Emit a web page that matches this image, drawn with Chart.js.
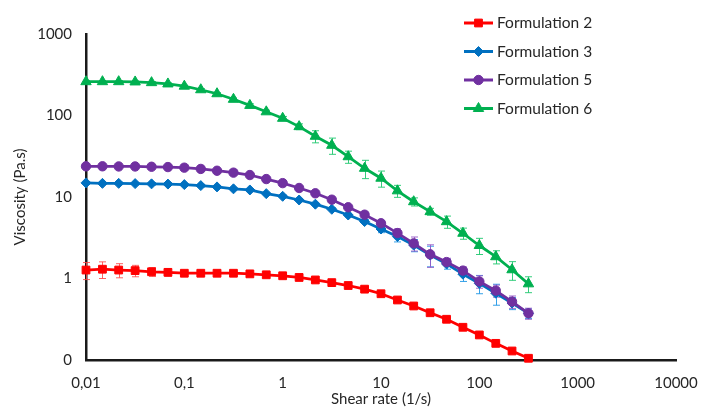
<!DOCTYPE html>
<html>
<head>
<meta charset="utf-8">
<script src="https://cdn.jsdelivr.net/npm/chart.js@4.4.0/dist/chart.umd.min.js"></script>
<style>
  html, body { margin: 0; background: #fff; }
  #wrap { width: 702px; height: 408px; position: relative; }
</style>
</head>
<body>
<div id="wrap"><canvas id="chart"></canvas></div>
<script>
// shear rate (1/s), 6 points per decade
const shearRate = [0.01, 0.0147, 0.0215, 0.0316, 0.0464, 0.0681, 0.1, 0.147, 0.215, 0.316, 0.464, 0.681,
  1, 1.47, 2.15, 3.16, 4.64, 6.81, 10, 14.7, 21.5, 31.6, 46.4, 68.1, 100, 147, 215, 316];

// viscosity (Pa.s)
const form2 = [1.27, 1.30, 1.27, 1.25, 1.21, 1.19, 1.16, 1.16, 1.16, 1.16, 1.14, 1.11, 1.08, 1.03,
  0.96, 0.89, 0.82, 0.74, 0.65, 0.545, 0.46, 0.38, 0.316, 0.252, 0.203, 0.160, 0.129, 0.105];
const form3 = [14.9, 14.7, 14.7, 14.6, 14.5, 14.4, 14.2, 13.8, 13.3, 12.6, 12.2, 11.0, 10.2, 9.19,
  8.16, 7.07, 6.01, 5.00, 4.05, 3.27, 2.57, 1.94, 1.51, 1.13, 0.87, 0.66, 0.50, 0.374];
const form5 = [23.8, 23.8, 23.7, 23.7, 23.5, 23.3, 22.9, 22.1, 21.0, 19.9, 18.6, 16.6, 14.8, 12.9,
  11.1, 9.27, 7.48, 6.07, 4.76, 3.61, 2.70, 1.98, 1.59, 1.25, 0.92, 0.71, 0.52, 0.374];
const form6 = [260, 260, 260, 258, 253, 244, 229, 207, 185, 158, 133, 111, 92.4, 73.0,
  55.6, 43.1, 31.2, 22.5, 17.0, 11.9, 8.75, 6.61, 4.98, 3.59, 2.54, 1.85, 1.28, 0.86];

// standard deviations
const err2 = [0.3, 0.3, 0.25, 0.2, 0.15, 0.12, 0.08, 0.06, 0.05, 0.05, 0.05, 0.04, 0.04, 0.04,
  0.04, 0.035, 0.03, 0.03, 0.025, 0.02, 0.02, 0.015, 0.012, 0.01, 0.008, 0.006, 0.005, 0.004];
const err3 = [0.5, 0.5, 0.5, 0.5, 0.5, 0.5, 0.5, 0.5, 0.45, 0.45, 0.4, 0.4, 0.35, 0.3,
  0.3, 0.3, 0.3, 0.3, 0.4, 0.46, 0.44, 0.55, 0.21, 0.21, 0.22, 0.19, 0.085, 0.05];
const err5 = [0.8, 0.8, 0.8, 0.8, 0.8, 0.8, 0.8, 0.7, 0.7, 0.6, 0.6, 0.5, 0.5, 0.5,
  0.45, 0.4, 0.35, 0.3, 0.4, 0.46, 0.53, 0.61, 0.18, 0.14, 0.16, 0.12, 0.09, 0.058];
const err6 = [8, 8, 8, 8, 8, 8, 7, 7, 6, 6, 6, 5, 5, 6,
  9.4, 9.7, 5.3, 5.7, 3.8, 2.0, 1.0, 0.65, 0.85, 0.56, 0.57, 0.34, 0.33, 0.19];

const seriesNames = ['Formulation 2', 'Formulation 3', 'Formulation 5', 'Formulation 6'];

const xTicks = [0.01, 0.1, 1, 10, 100, 1000, 10000];
const xTickLabels = ['0,01', '0,1', '1', '10', '100', '1000', '10000'];
const yTicks = [0.1, 1, 10, 100, 1000];
const yTickLabels = ['0', '1', '10', '100', '1000'];

const FONT = 'Lato';
const TEXT = '#262626';

function pts(vals) {
  return vals.map((v, i) => ({ x: shearRate[i], y: v }));
}

function series(i, vals, errs, color, errColor, style, radius, order) {
  return {
    label: seriesNames[i],
    data: pts(vals),
    errors: errs,
    errorColor: errColor,
    borderColor: color,
    backgroundColor: color,
    pointBackgroundColor: color,
    pointBorderColor: color,
    pointStyle: style,
    pointRadius: radius,
    pointBorderWidth: 1,
    borderWidth: 2.75,
    tension: 0,
    clip: false,
    order: order
  };
}

// error bars, drawn under the markers
const errorBars = {
  id: 'errorBars',
  beforeDatasetsDraw(chart) {
    const ctx = chart.ctx, xs = chart.scales.x, ys = chart.scales.y;
    chart.data.datasets.forEach(ds => {
      if (!ds.errors) return;
      ctx.save();
      ctx.strokeStyle = ds.errorColor;
      ctx.lineWidth = 1;
      ds.data.forEach((p, j) => {
        const e = ds.errors[j];
        const x = Math.round(xs.getPixelForValue(p.x)) + 0.5;
        const top = ys.getPixelForValue(p.y + e);
        const bot = ys.getPixelForValue(Math.max(p.y - e, 0.0001));
        ctx.beginPath();
        ctx.moveTo(x, top); ctx.lineTo(x, bot);
        ctx.moveTo(x - 3.5, top); ctx.lineTo(x + 3.5, top);
        ctx.moveTo(x - 3.5, bot); ctx.lineTo(x + 3.5, bot);
        ctx.stroke();
      });
      ctx.restore();
    });
  }
};

// vertical legend at the top right
const sideLegend = {
  id: 'sideLegend',
  afterDraw(chart) {
    const ctx = chart.ctx;
    chart.data.datasets.forEach((ds, i) => {
      const y = 23 + i * 28.5;
      ctx.save();
      ctx.strokeStyle = ds.borderColor;
      ctx.lineWidth = 3;
      ctx.beginPath();
      ctx.moveTo(464, y); ctx.lineTo(493, y);
      ctx.stroke();
      ctx.fillStyle = ds.borderColor;
      ctx.lineWidth = 1;
      Chart.helpers.drawPoint(ctx, { pointStyle: ds.pointStyle, radius: ds.pointRadius, rotation: 0, borderWidth: 1 }, 478.5, y);
      ctx.fillStyle = TEXT;
      ctx.font = '15.5px ' + FONT;
      ctx.textAlign = 'left';
      ctx.textBaseline = 'middle';
      ctx.fillText(ds.label, 497, y);
      ctx.restore();
    });
  }
};

new Chart(document.getElementById('chart'), {
  type: 'line',
  data: {
    datasets: [
      series(0, form2, err2, '#FF0000', 'rgba(255,70,70,0.85)', 'rect', 5.5, 4),
      series(1, form3, err3, '#0070C0', 'rgba(30,150,230,0.9)', 'rectRot', 5, 3),
      series(2, form5, err5, '#7030A0', 'rgba(150,90,200,0.9)', 'circle', 4.7, 2),
      series(3, form6, err6, '#00B050', 'rgba(30,200,110,0.9)', 'triangle', 6, 1)
    ]
  },
  options: {
    responsive: true,
    maintainAspectRatio: false,
    animation: false,
    layout: { padding: { top: 34, right: 26, left: 0, bottom: 0 } },
    plugins: { legend: { display: false }, tooltip: { enabled: false } },
    scales: {
      x: {
        type: 'logarithmic',
        min: 0.01, max: 10000,
        grid: { display: false, drawTicks: false },
        border: { display: true, color: '#1a1a1a', width: 2.5 },
        afterBuildTicks: s => { s.ticks = xTicks.map(v => ({ value: v })); },
        afterFit: s => { s.height = 48; s.paddingLeft = 0; s.paddingRight = 0; },
        ticks: {
          autoSkip: false, maxRotation: 0, padding: 14, color: TEXT,
          font: { family: FONT, size: 15 },
          callback: (v) => xTickLabels[xTicks.indexOf(v)]
        },
        title: {
          display: true, text: 'Shear rate (1/s)', color: TEXT,
          font: { family: FONT, size: 15 }, padding: { top: 0, bottom: 0 }
        }
      },
      y: {
        type: 'logarithmic',
        min: 0.1, max: 1000,
        grid: { display: false, drawTicks: false },
        border: { display: true, color: '#1a1a1a', width: 2.5 },
        afterBuildTicks: s => { s.ticks = yTicks.map(v => ({ value: v })); },
        afterFit: s => { s.width = 86; },
        ticks: {
          autoSkip: false, padding: 14, color: TEXT,
          font: { family: FONT, size: 15 },
          callback: (v) => yTickLabels[yTicks.indexOf(v)]
        },
        title: {
          display: true, text: 'Viscosity (Pa.s)', color: TEXT,
          font: { family: FONT, size: 15 }, padding: { top: 11, bottom: 0 }
        }
      }
    }
  },
  plugins: [errorBars, sideLegend]
});
</script>
</body>
</html>
